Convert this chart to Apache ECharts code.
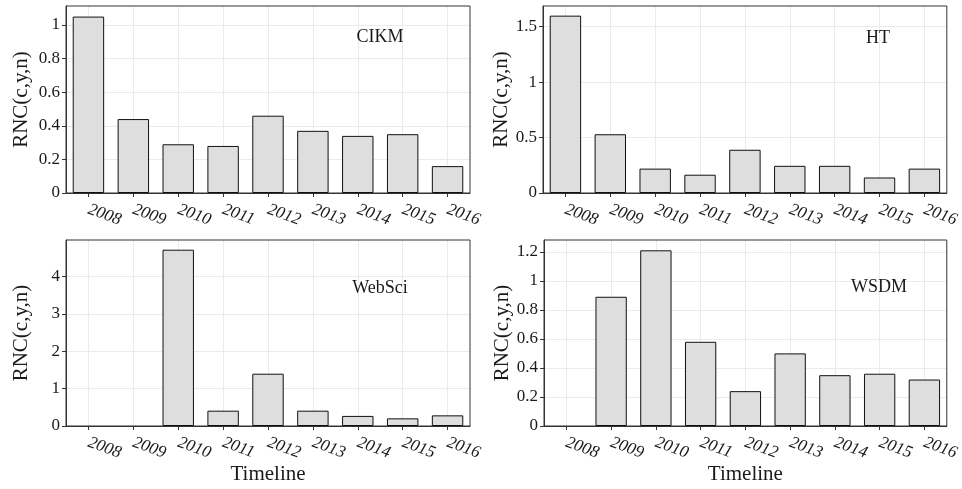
<!DOCTYPE html>
<html>
<head>
<meta charset="utf-8">
<script src="https://cdn.jsdelivr.net/npm/echarts@6/dist/echarts.min.js"></script>
<style>
  html, body { margin: 0; padding: 0; background: #fff; }
  #chart { width: 962px; height: 489px; }
</style>
</head>
<body>
<div id="chart"></div>
<script>
// ---- Data ----
const years = ['2008', '2009', '2010', '2011', '2012', '2013', '2014', '2015', '2016'];
const panelNames = ['CIKM', 'HT', 'WebSci', 'WSDM'];
const cikmValues = [1.05, 0.44, 0.29, 0.28, 0.46, 0.37, 0.34, 0.35, 0.16];
const htValues = [1.6, 0.53, 0.22, 0.165, 0.39, 0.245, 0.245, 0.14, 0.22];
const webSciValues = [null, null, 4.72, 0.41, 1.4, 0.41, 0.27, 0.205, 0.285];
const wsdmValues = [null, 0.89, 1.21, 0.58, 0.24, 0.5, 0.35, 0.36, 0.32];
const cikmTicks = [0, 0.2, 0.4, 0.6, 0.8, 1];
const htTicks = [0, 0.5, 1, 1.5];
const webSciTicks = [0, 1, 2, 3, 4];
const wsdmTicks = [0, 0.2, 0.4, 0.6, 0.8, 1, 1.2];
const yMaxes = [1.113, 1.687, 4.98, 1.281];
const yAxisTitle = 'RNC(c,y,n)';
const xAxisTitle = 'Timeline';

// ---- Layout / style ----
const FONT = '"Liberation Serif", "Times New Roman", serif';
const TXT = '#1a1a1a';
const DARK = '#333333';
const GRIDC = '#ebebeb';

const values = [cikmValues, htValues, webSciValues, wsdmValues];
const ticks = [cikmTicks, htTicks, webSciTicks, wsdmTicks];
const grids = [
  { left: 66, top: 6, width: 404, height: 187 },
  { left: 543, top: 6, width: 405, height: 187 },
  { left: 66, top: 240, width: 404, height: 186 },
  { left: 544, top: 240, width: 404, height: 186 }
];
const yNameGaps = [34, 29, 34, 30];
const titlePos = [
  { left: 380, top: 28.5 },
  { left: 878, top: 29 },
  { left: 380, top: 279 },
  { left: 879, top: 278.5 }
];

// half-step categories for the vertical grid lines at category centres
const halfSteps = [];
for (let i = 0; i < years.length * 2 + 1; i++) halfSteps.push(i % 2 === 1 ? years[(i - 1) / 2] : '');

const option = {
  animation: false,
  backgroundColor: '#ffffff',
  title: [],
  grid: [],
  xAxis: [],
  yAxis: [],
  series: []
};

for (let k = 0; k < 4; k++) {
  option.grid.push(Object.assign({
    show: true, borderColor: DARK, borderWidth: 1, z: 1,
    backgroundColor: 'transparent', containLabel: false
  }, grids[k]));

  option.title.push({
    text: panelNames[k],
    left: titlePos[k].left, top: titlePos[k].top,
    textAlign: 'center', padding: 0,
    textStyle: { fontFamily: FONT, fontSize: 18, fontWeight: 'normal', color: TXT }
  });

  const isBottom = k >= 2;
  option.xAxis.push({
    type: 'category', gridIndex: k, data: years, boundaryGap: true,
    position: 'bottom',
    axisLine: { show: true, lineStyle: { color: DARK, width: 1 } },
    axisTick: { show: true, alignWithLabel: true, length: 4, lineStyle: { color: DARK, width: 1 } },
    axisLabel: {
      interval: 0, rotate: -20, margin: 16,
      fontFamily: FONT, fontSize: 17, fontStyle: 'italic', color: TXT
    },
    splitLine: { show: false },
    name: isBottom ? xAxisTitle : '',
    nameLocation: 'middle', nameGap: 37,
    nameTextStyle: { fontFamily: FONT, fontSize: 21, color: TXT }
  });
  option.xAxis.push({
    type: 'category', gridIndex: k, data: halfSteps, boundaryGap: false,
    position: 'top',
    axisLine: { show: false }, axisTick: { show: false }, axisLabel: { show: false },
    splitLine: { show: true, interval: function (i) { return i % 2 === 1; }, lineStyle: { color: GRIDC, width: 1 } }
  });

  const t = ticks[k];
  option.yAxis.push({
    type: 'value', gridIndex: k, min: 0, max: yMaxes[k], interval: t[1] - t[0],
    axisLine: { show: true, lineStyle: { color: DARK, width: 1 } },
    axisTick: { show: true, length: 4, customValues: t, lineStyle: { color: DARK, width: 1 } },
    axisLabel: {
      customValues: t, margin: 6,
      fontFamily: FONT, fontSize: 17, color: TXT
    },
    splitLine: { show: true, lineStyle: { color: GRIDC, width: 1 } },
    name: yAxisTitle, nameLocation: 'middle', nameGap: yNameGaps[k],
    nameTextStyle: { fontFamily: FONT, fontSize: 21, color: TXT }
  });

  option.series.push({
    type: 'bar', xAxisIndex: 2 * k, yAxisIndex: k,
    data: values[k], barWidth: '70%', z: 2,
    itemStyle: { color: '#dedede', borderColor: '#111111', borderWidth: 1 },
    emphasis: { disabled: true }
  });
}

const chart = echarts.init(document.getElementById('chart'), null, { renderer: 'canvas' });
chart.setOption(option);
</script>
</body>
</html>
